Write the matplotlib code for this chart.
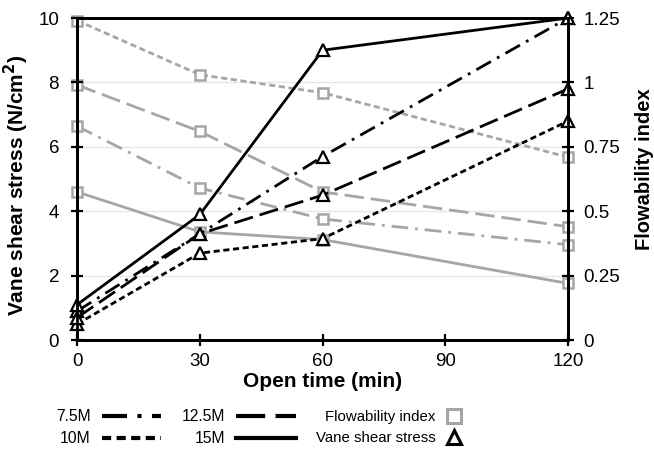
import matplotlib
matplotlib.use("Agg")
from matplotlib import pyplot as plt
from matplotlib.lines import Line2D

plt.rcParams["font.family"] = ["Liberation Sans", "DejaVu Sans"]

times = [0, 30, 60, 120]
mixes = ["7.5M", "10M", "12.5M", "15M"]

# vane shear stress (N/cm2), left axis
vane_75 = [0.9, 3.3, 5.7, 10.0]
vane_10 = [0.5, 2.7, 3.15, 6.8]
vane_125 = [0.7, 3.3, 4.5, 7.8]
vane_15 = [1.1, 3.9, 9.0, 10.0]

# flowability index, right axis
flow_75 = [0.83, 0.59, 0.47, 0.37]
flow_10 = [1.24, 1.03, 0.96, 0.71]
flow_125 = [0.99, 0.81, 0.575, 0.44]
flow_15 = [0.575, 0.42, 0.39, 0.22]

styles = {
	"7.5M": (0, (6, 2.5, 1, 2.5)),
	"10M": (0, (2.2, 1.3)),
	"12.5M": (0, (7, 2.5)),
	"15M": "-",
}
gray = "#a6a6a6"

fig = plt.figure(figsize=(6.54, 4.51), dpi=100)
ax = fig.add_axes([0.118, 0.246, 0.7505, 0.714])
ax2 = ax.twinx()
ax.set_zorder(2)
ax.patch.set_visible(False)
ax2.set_zorder(1)

flows = [flow_75, flow_10, flow_125, flow_15]
vanes = [vane_75, vane_10, vane_125, vane_15]

for name, f in zip(mixes, flows):
	ax2.plot(times, f, color=gray, lw=2, linestyle=styles[name], marker="s",
		markersize=7, markerfacecolor="white", markeredgecolor=gray,
		markeredgewidth=1.8, clip_on=False)

for name, v in zip(mixes, vanes):
	ax.plot(times, v, color="black", lw=2, linestyle=styles[name], marker="^",
		markersize=8, markerfacecolor="white", markeredgecolor="black",
		markeredgewidth=1.6, clip_on=False)

ax.set_xlim(0, 120)
ax.set_ylim(0, 10)
ax2.set_ylim(0, 1.25)
ax.set_xticks([0, 30, 60, 90, 120])
ax.set_yticks([0, 2, 4, 6, 8, 10])
ax2.set_yticks([0, 0.25, 0.5, 0.75, 1, 1.25])
ax2.set_yticklabels(["0", "0.25", "0.5", "0.75", "1", "1.25"])

ax2.grid(True, color="#e6e6e6", lw=1)
ax2.set_axisbelow(True)

for a in (ax, ax2):
	for s in a.spines.values():
		s.set_linewidth(2)
	a.tick_params(direction="inout", length=8, width=1.6, labelsize=13.5, pad=5)
ax.tick_params(axis="y", pad=9)
ax2.tick_params(axis="y", pad=7)

ax.set_xlabel("Open time (min)", fontsize=15, fontweight="bold", labelpad=2)
ax.set_ylabel("Vane shear stress (N/cm$^\\mathbf{2}$)", fontsize=15, fontweight="bold", labelpad=2)
ax.yaxis.set_label_coords(-0.095, 0.48)
ax2.set_ylabel("Flowability index", fontsize=14.5, fontweight="bold", labelpad=9)
ax2.yaxis.set_label_coords(1.137, 0.53)

line_handles = [Line2D([], [], color="black", lw=3, linestyle=styles[m]) for m in mixes]
leg1 = fig.legend(line_handles, mixes, ncol=2, loc="center",
	bbox_to_anchor=(0.269, 0.052), markerfirst=False, frameon=False,
	fontsize=11.3, handlelength=3.8, handletextpad=0.7, columnspacing=1.3,
	labelspacing=0.45)

mark_handles = [
	Line2D([], [], linestyle="none", marker="s", markersize=10,
		markerfacecolor="white", markeredgecolor=gray, markeredgewidth=2.2),
	Line2D([], [], linestyle="none", marker="^", markersize=10,
		markerfacecolor="white", markeredgecolor="black", markeredgewidth=2.2),
]
leg2 = fig.legend(mark_handles, ["Flowability index", "Vane shear stress"],
	loc="center", bbox_to_anchor=(0.594, 0.052), markerfirst=False,
	frameon=False, fontsize=10.8, handlelength=1.0, handletextpad=0.7,
	labelspacing=0.5)

fig.savefig("out.png", dpi=100)
